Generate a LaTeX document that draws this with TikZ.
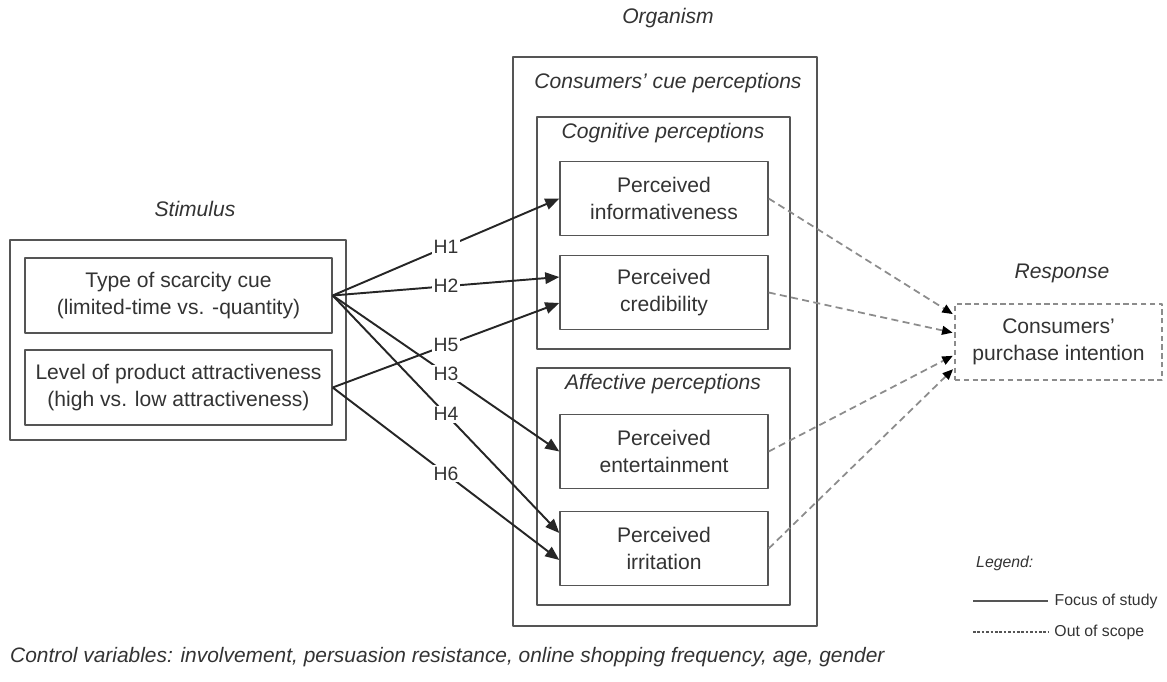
\documentclass[tikz,border=0pt]{standalone}
\usepackage{fontspec}
\setmainfont{Liberation Sans}
\usetikzlibrary{arrows.meta,positioning,calc}
\definecolor{boxgrey}{HTML}{555555}
\definecolor{txtgrey}{HTML}{333333}
\definecolor{arrgrey}{HTML}{262626}
\definecolor{dashgrey}{HTML}{8C8C8C}

\begin{document}
\begin{tikzpicture}[x=0.02cm, y=-0.02cm, line join=round,
  box/.style={draw=boxgrey, line width=0.8pt, align=center, inner sep=0pt, text=txtgrey,
    font=\fontsize{12}{15}\selectfont},
  frame/.style={draw=boxgrey, line width=0.8pt, inner sep=0pt},
  head/.style={text=txtgrey, font=\fontsize{12}{15}\selectfont\itshape},
  hyp/.style={draw=arrgrey, line width=1.1pt, -{Triangle[length=8pt,width=6.5pt]}},
  hlab/.style={midway, fill=white, inner sep=1pt, text=txtgrey, font=\fontsize{11}{13}\selectfont},
  scope/.style={draw=dashgrey, line width=1pt, dash pattern=on 4pt off 2.5pt,
    -{Triangle[length=6pt,width=5pt,color=black]}, shorten >=1pt},
  legtxt/.style={text=txtgrey, font=\fontsize{9}{11}\selectfont, anchor=west}]
\useasboundingbox (0,0) rectangle (1167,682);

% organism side
\node[head] (organism) at (668,18) {Organism};
\node[frame, minimum width=6.08cm, minimum height=11.38cm] (org) at (665,341.5) {};
\node[head] (cue) at (668,83) {Consumers' cue perceptions};
\node[frame, minimum width=5.06cm, minimum height=4.64cm] (cog) at (663.5,233) {};
\node[head] (coglab) at (663,133) {Cognitive perceptions};
\node[frame, minimum width=5.06cm, minimum height=4.74cm] (aff) at (663.5,486.5) {};
\node[head] (afflab) at (663,384) {Affective perceptions};
\node[box, minimum width=4.16cm, minimum height=1.48cm] (info) at (664,198.5) {Perceived\\informativeness};
\node[box, minimum width=4.16cm, minimum height=1.48cm] (cred) at (664,292.5) {Perceived\\credibility};
\node[box, minimum width=4.16cm, minimum height=1.48cm] (ent) at (664,451.5) {Perceived\\entertainment};
\node[box, minimum width=4.16cm, minimum height=1.48cm] (irr) at (664,548.5) {Perceived\\irritation};

% stimulus side
\node[head] (stimulus) at (195,209) {Stimulus};
\node[frame, minimum width=6.72cm, minimum height=4cm] (stim) at (178,340) {};
\node[box, minimum width=6.14cm, minimum height=1.5cm] (type) at (178.5,295.5) {Type of scarcity cue\\(limited-time vs. -quantity)};
\node[box, minimum width=6.14cm, minimum height=1.5cm] (level) at (178.5,387.5) {Level of product attractiveness\\(high vs. low attractiveness)};

% response side
\node[head] (response) at (1062,273) {Response};
\node[box, draw=dashgrey, dash pattern=on 3pt off 2pt, minimum width=4.14cm, minimum height=1.52cm] (resp) at (1058.5,342) {Consumers'\\purchase intention};

% hypotheses
\draw[hyp] (type.east) -- (info.west) node[hlab] {H1};
\draw[hyp] (type.east) -- ([yshift=0.31cm]cred.west) node[hlab] {H2};
\draw[hyp] (level.east) -- ([yshift=-0.21cm]cred.west) node[hlab] {H5};
\draw[hyp] (type.east) -- (ent.west) node[hlab] {H3};
\draw[hyp] (type.east) -- ([yshift=0.31cm]irr.west) node[hlab] {H4};
\draw[hyp] (level.east) -- ([yshift=-0.23cm]irr.west) node[hlab] {H6};

% out of scope
\draw[scope] (info.east) -- ([yshift=0.54cm]resp.west);
\draw[scope] (cred.east) -- ([yshift=0.18cm]resp.west);
\draw[scope] (ent.east) -- ([yshift=-0.26cm]resp.west);
\draw[scope] (irr.east) -- ([yshift=-0.52cm]resp.west);

% legend
\node[legtxt, font=\fontsize{9}{11}\selectfont\itshape] (legend) at (970,563) {Legend:};
\coordinate (f1) at (973,601);
\coordinate (f2) at (1048,601);
\coordinate (o1) at (973,632);
\coordinate (o2) at (1048,632);
\draw[boxgrey, line width=0.9pt] (f1) -- (f2) node[legtxt] (focus) {Focus of study};
\draw[boxgrey, line width=0.7pt, dash pattern=on 1.5pt off 1pt] (o1) -- (o2) node[legtxt] (out) {Out of scope};

\node[text=txtgrey, font=\fontsize{11.9}{14}\selectfont\itshape, anchor=west] (ctrl) at (4,657)
  {Control variables: involvement, persuasion resistance, online shopping frequency, age, gender};
\end{tikzpicture}
\end{document}
